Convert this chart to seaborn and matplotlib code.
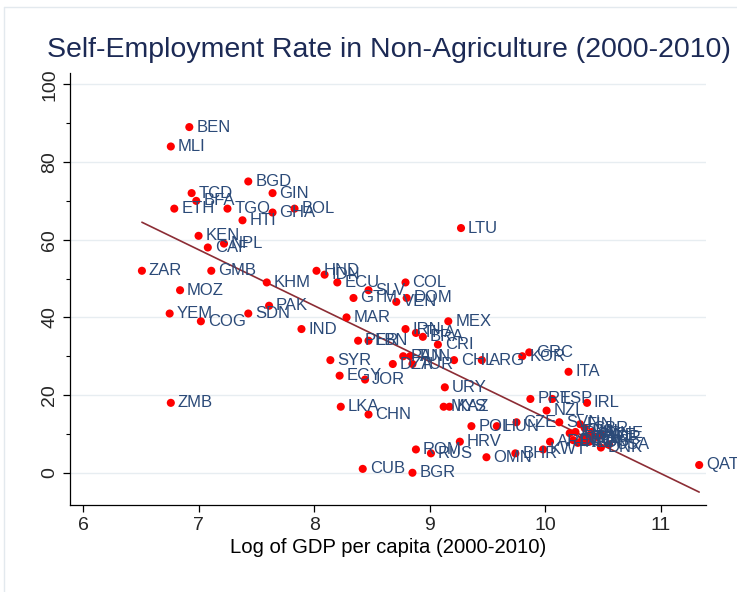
import numpy as np
import pandas as pd
import matplotlib
matplotlib.use("Agg")
import matplotlib.pyplot as plt
import seaborn as sns

# ==========================================
# 1. DATA
# ==========================================
codes = ["BEN", "MLI", "BGD", "TCD", "GIN", "BFA", "ETH", "TGO", "GHA", "BOL",
         "HTI", "LTU", "KEN", "NPL", "CAF", "ZAR", "GMB", "HND", "IDN", "KHM",
         "MOZ", "ECU", "SLV", "COL", "GTM", "DOM", "VEN", "PAK", "SDN", "YEM",
         "COG", "MAR", "IND", "MEX", "IRN", "THA", "BRA", "PER", "LBN", "CRI",
         "SYR", "PAN", "TUN", "DZA", "TUR", "CHL", "ARG", "KOR", "GRC", "ITA",
         "EGY", "JOR", "URY", "LKA", "CHN", "MYS", "KAZ", "POL", "HUN", "CZE",
         "HRV", "ROM", "RUS", "OMN", "BHR", "CUB", "BGR", "ZMB", "PRT", "ESP",
         "IRL", "NZL", "SVN", "ARE", "KWT", "QAT",
         "JPN", "FRA", "DEU", "BEL", "AUT", "NLD", "CAN", "FIN", "GBR", "ISL",
         "AUS", "DNK", "NOR", "CHE", "SWE", "USA"]

log_gdp = [6.92, 6.76, 7.43, 6.94, 7.64, 6.98, 6.79, 7.25, 7.64, 7.83,
           7.38, 9.27, 7.00, 7.22, 7.08, 6.51, 7.11, 8.02, 8.09, 7.59,
           6.84, 8.20, 8.47, 8.79, 8.34, 8.80, 8.71, 7.61, 7.43, 6.75,
           7.02, 8.28, 7.89, 9.16, 8.79, 8.88, 8.94, 8.38, 8.47, 9.07,
           8.14, 8.77, 8.83, 8.68, 8.85, 9.21, 9.45, 9.80, 9.86, 10.20,
           8.22, 8.44, 9.13, 8.23, 8.47, 9.12, 9.17, 9.36, 9.58, 9.75,
           9.26, 8.88, 9.01, 9.49, 9.74, 8.42, 8.85, 6.76, 9.87, 10.06,
           10.36, 10.01, 10.12, 10.04, 9.98, 11.33,
           10.21, 10.26, 10.24, 10.32, 10.34, 10.28, 10.36, 10.30, 10.34, 10.40,
           10.38, 10.48, 10.45, 10.48, 10.40, 10.55]

self_emp = [89, 84, 75, 72, 72, 70, 68, 68, 67, 68,
            65, 63, 61, 59, 58, 52, 52, 52, 51, 49,
            47, 49, 47, 49, 45, 45, 44, 43, 41, 41,
            39, 40, 37, 39, 37, 36, 35, 34, 34, 33,
            29, 30, 30, 28, 28, 29, 29, 30, 31, 26,
            25, 24, 22, 17, 15, 17, 17, 12, 12, 13,
            8, 6, 5, 4, 5, 1, 0, 18, 19, 19,
            18, 16, 13, 8, 6, 2,
            10.2, 10.5, 8.4, 8.9, 7.9, 7.7, 9.2, 12.5, 11.5, 10.5,
            8.0, 6.5, 9.2, 10.0, 9.5, 7.3]

df = pd.DataFrame({"code": codes, "log_gdp": log_gdp, "self_emp": self_emp})

# ==========================================
# 2. PLOT
# ==========================================
sns.set_style("white")
plt.rcParams["font.family"] = ["Liberation Sans", "DejaVu Sans"]

label_color = "#2b4a78"
title_color = "#1c2a55"

fig = plt.figure(figsize=(7.37, 5.92), dpi=100)
ax = fig.add_axes([70 / 737, 1 - 505 / 592, 636 / 737, 432.3 / 592])

# horizontal grid lines
for yv in [0, 20, 40, 60, 80, 100]:
    ax.axhline(yv, color="#e7edf1", lw=1.0, zorder=0)

sns.regplot(data=df, x="log_gdp", y="self_emp", scatter=False, ci=None,
            truncate=True, color="#8c2d35", line_kws={"lw": 1.2, "zorder": 2}, ax=ax)
sns.scatterplot(data=df, x="log_gdp", y="self_emp", color="#ff0000",
                edgecolor="none", s=34, zorder=3, ax=ax)

for c, xv, yv in zip(codes, log_gdp, self_emp):
    ax.annotate(c, (xv, yv), xytext=(5.0, 0), textcoords="offset points",
                va="center", ha="left", fontsize=12, color=label_color,
                zorder=4, annotation_clip=False)

ax.set_xlim(5.888, 11.389)
ax.set_ylim(-8.3, 103)
ax.set_xticks([6, 7, 8, 9, 10, 11])
ax.set_yticks([0, 20, 40, 60, 80, 100])
ax.set_yticks([10, 30, 50, 70, 90], minor=True)
ax.tick_params(axis="both", which="major", direction="out", length=5,
               width=0.9, labelsize=14, color="black")
ax.tick_params(axis="y", which="minor", direction="out", length=3, width=0.8,
               color="black", left=True)
ax.tick_params(axis="x", bottom=True)
ax.tick_params(axis="y", left=True)
for lab in ax.get_yticklabels():
    lab.set_rotation(90)
    lab.set_va("center")

for s in ["top", "right"]:
    ax.spines[s].set_visible(False)
for s in ["left", "bottom"]:
    ax.spines[s].set_color("black")
    ax.spines[s].set_linewidth(0.9)

ax.set_xlabel("Log of GDP per capita (2000-2010)", fontsize=14.6, color="black", labelpad=3)
ax.set_ylabel("")

fig.text(389 / 737, 1 - 50 / 592, "Self-Employment Rate in Non-Agriculture (2000-2010)",
         ha="center", va="center", fontsize=20.5, color=title_color)

# light outer frame of the graph region
fig.add_artist(plt.Line2D([4 / 737, 4 / 737], [0, 1 - 7 / 592], transform=fig.transFigure,
                          color="#e3e9ee", lw=1.0))
fig.add_artist(plt.Line2D([4 / 737, 1], [1 - 7 / 592, 1 - 7 / 592], transform=fig.transFigure,
                          color="#e3e9ee", lw=1.0))

fig.savefig("out.png", dpi=100, facecolor="white")
